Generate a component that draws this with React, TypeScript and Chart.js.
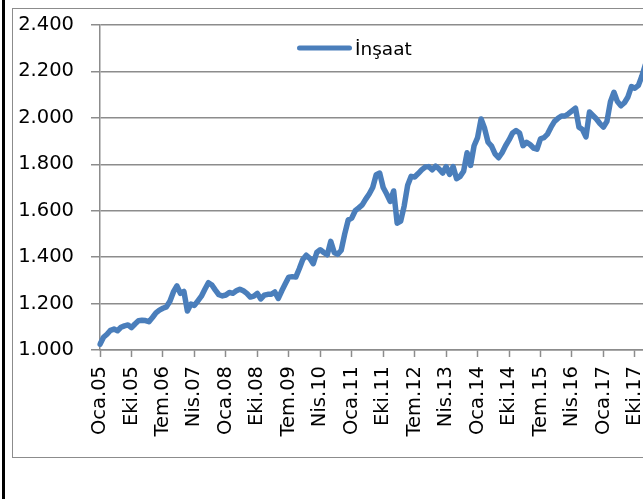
import React, { useEffect, useRef } from "react";
import { Chart, registerables } from "chart.js";

Chart.register(...registerables);

const MONTHS = ["Oca", "Şub", "Mar", "Nis", "May", "Haz", "Tem", "Ağu", "Eyl", "Eki", "Kas", "Ara"];
const START_YEAR = 2005;
const SERIES_LABEL = "İnşaat";
const LINE_COLOR = "#4A7EBB";
const GRID_COLOR = "#8C8C8C";

const insaat = [
  1.025, 1.055, 1.068, 1.085, 1.09, 1.083, 1.098, 1.104, 1.108, 1.096, 1.112, 1.126,
  1.128, 1.127, 1.122, 1.14, 1.16, 1.172, 1.18, 1.186, 1.21, 1.25, 1.276, 1.244,
  1.252, 1.168, 1.198, 1.192, 1.212, 1.232, 1.262, 1.29, 1.28, 1.258, 1.238, 1.233,
  1.237, 1.248, 1.244, 1.255, 1.262, 1.255, 1.244, 1.228, 1.232, 1.244, 1.22, 1.236,
  1.24, 1.24, 1.25, 1.222, 1.255, 1.285, 1.314, 1.316, 1.314, 1.35, 1.39, 1.408,
  1.395, 1.372, 1.42, 1.432, 1.42, 1.41, 1.468, 1.42, 1.412, 1.43, 1.5, 1.56,
  1.568, 1.6, 1.612, 1.625, 1.65, 1.672, 1.7, 1.755, 1.762, 1.7, 1.672, 1.64,
  1.685, 1.546, 1.555, 1.62, 1.71, 1.748, 1.745, 1.76, 1.776, 1.788, 1.79, 1.776,
  1.792, 1.78, 1.762, 1.79, 1.756, 1.79, 1.738, 1.748, 1.77, 1.85, 1.795, 1.88,
  1.915, 1.995, 1.955, 1.895, 1.878, 1.845, 1.828, 1.85, 1.88, 1.905, 1.935, 1.945,
  1.935, 1.88, 1.895, 1.885, 1.87, 1.865, 1.91, 1.915, 1.93, 1.96, 1.985, 1.998,
  2.008, 2.008, 2.018, 2.03, 2.042, 1.96, 1.95, 1.918, 2.025, 2.01, 1.995, 1.975,
  1.96, 1.985, 2.07, 2.11, 2.07, 2.052, 2.065, 2.09, 2.135, 2.128, 2.14, 2.18,
  2.23,
];

const categories = insaat.map(
  (_, i) => `${MONTHS[i % 12]}.${String((START_YEAR + Math.floor(i / 12)) % 100).padStart(2, "0")}`
);

const Y_MIN = 1.0;
const Y_MAX = 2.4;
const Y_STEP = 0.2;
const LABEL_EVERY = 9;

function formatTr(v: number): string {
  const n = Math.round(v * 1000);
  return `${Math.floor(n / 1000)}.${String(n % 1000).padStart(3, "0")}`;
}

const FONT = { family: "'DejaVu Sans'", size: 19.5 };

const legendPlugin = {
  id: "insideLegend",
  afterDraw(chart: any) {
    const ctx = chart.ctx;
    const ds = chart.data.datasets[0];
    ctx.save();
    ctx.strokeStyle = ds.borderColor;
    ctx.lineWidth = 5;
    ctx.lineCap = "round";
    ctx.beginPath();
    ctx.moveTo(299.5, 48);
    ctx.lineTo(349.5, 48);
    ctx.stroke();
    ctx.fillStyle = "#000";
    ctx.font = `18.5px 'DejaVu Sans'`;
    ctx.textBaseline = "alphabetic";
    ctx.textAlign = "left";
    ctx.fillText(ds.label, 355, 54.5);
    ctx.restore();
  },
};

export default function App() {
  const canvasRef = useRef<HTMLCanvasElement | null>(null);

  useEffect(() => {
    if (!canvasRef.current) return;
    const chart = new Chart(canvasRef.current, {
      type: "line",
      data: {
        labels: categories,
        datasets: [
          {
            label: SERIES_LABEL,
            data: insaat,
            borderColor: LINE_COLOR,
            backgroundColor: LINE_COLOR,
            borderWidth: 5.5,
            pointRadius: 0,
            pointHoverRadius: 0,
            tension: 0,
            borderJoinStyle: "round",
            borderCapStyle: "round",
          },
        ],
      },
      plugins: [legendPlugin],
      options: {
        responsive: false,
        animation: false,
        devicePixelRatio: 1,
        layout: { padding: { left: 0, top: 25, right: 54.6, bottom: 0 } },
        plugins: {
          legend: { display: false },
          tooltip: { enabled: false },
        },
        scales: {
          x: {
            type: "category",
            offset: false,
            afterBuildTicks: (axis: any) => {
              axis.ticks = axis.ticks.filter((t: any) => t.value % LABEL_EVERY === 0);
            },
            afterFit: (scale: any) => {
              scale.height = 149;
            },
            grid: {
              drawOnChartArea: false,
              drawTicks: true,
              tickLength: 7,
              tickColor: GRID_COLOR,
              tickWidth: 1.5,
              offset: false,
            },
            border: { display: true, color: GRID_COLOR, width: 1.5 },
            ticks: {
              autoSkip: false,
              maxRotation: 90,
              minRotation: 90,
              padding: 9,
              color: "#000",
              font: FONT,
            },
          },
          y: {
            min: Y_MIN,
            max: Y_MAX,
            afterFit: (scale: any) => {
              scale.width = 100;
              scale.paddingTop = 0;
              scale.paddingBottom = 0;
            },
            grid: {
              color: GRID_COLOR,
              lineWidth: 1.5,
              tickLength: 9,
              tickColor: GRID_COLOR,
            },
            border: { display: true, color: GRID_COLOR, width: 1.5 },
            ticks: {
              stepSize: Y_STEP,
              padding: 17,
              color: "#000",
              font: FONT,
              callback: (v: any) => formatTr(Number(v)),
            },
          },
        },
      },
    });
    return () => chart.destroy();
  }, []);

  return (
    <div
      style={{
        position: "fixed",
        left: 0,
        top: 0,
        width: 643,
        height: 499,
        overflow: "hidden",
        background: "#fff",
      }}
    >
      <div
        style={{
          position: "absolute",
          left: 2,
          top: 0,
          width: 3,
          height: 499,
          background: "#000",
        }}
      />
      <div
        style={{
          position: "absolute",
          left: 12,
          top: 8,
          width: 720,
          height: 448,
          border: "1px solid #8C8C8C",
        }}
      />
      <canvas
        ref={canvasRef}
        width={700}
        height={499}
        style={{ position: "absolute", left: 0, top: 0 }}
      />
    </div>
  );
}
